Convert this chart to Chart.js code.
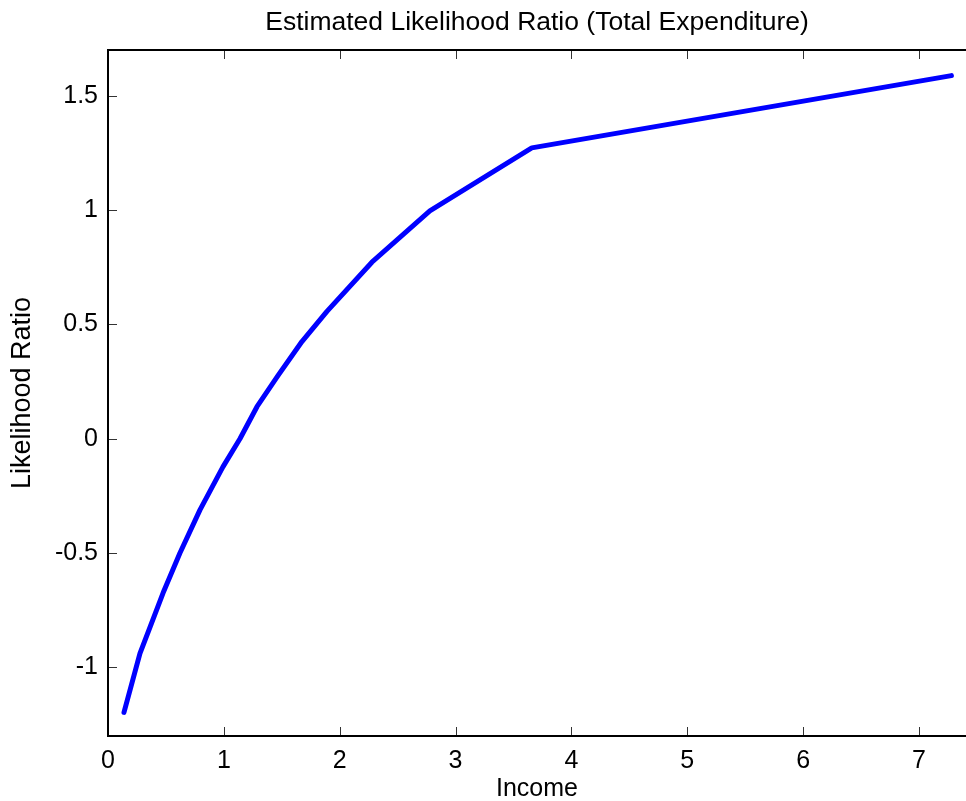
<!DOCTYPE html>
<html>
<head>
<meta charset="utf-8">
<script src="https://cdn.jsdelivr.net/npm/chart.js@4.4.1/dist/chart.umd.min.js"></script>
<style>
html, body { margin: 0; padding: 0; background: #fff; overflow: hidden; }
#wrap { width: 966px; height: 801px; }
</style>
</head>
<body>
<div id="wrap"><canvas id="chart" width="966" height="801"></canvas></div>
<script>
// values
const income = [0.138, 0.276, 0.362, 0.475, 0.621, 0.794, 0.992, 1.139, 1.286, 1.467, 1.674, 1.890, 2.278, 2.778, 3.658, 7.28];
const ratio = [-1.197, -0.939, -0.825, -0.675, -0.5, -0.311, -0.123, 0, 0.140, 0.276, 0.425, 0.557, 0.772, 0.996, 1.272, 1.588];
const xTicks = [0, 1, 2, 3, 4, 5, 6, 7];
const yTicks = [-1, -0.5, 0, 0.5, 1, 1.5];
const titleText = 'Estimated Likelihood Ratio (Total Expenditure)';

const FONT = "'Liberation Sans', Arial, Helvetica, sans-serif";

// frame on left/top/bottom + inward tick marks (Matlab style), title centred over the axes
const frameTicks = {
    id: 'frameTicks',
    afterDraw(chart) {
        const { ctx, chartArea: { left, top, right, bottom }, scales: { x, y } } = chart;
        ctx.save();
        ctx.strokeStyle = '#333';
        ctx.lineWidth = 1;
        ctx.beginPath();
        xTicks.forEach(v => {
            const px = Math.round(x.getPixelForValue(v)) + 0.5;
            ctx.moveTo(px, bottom); ctx.lineTo(px, bottom - 9);
            ctx.moveTo(px, top); ctx.lineTo(px, top + 9);
        });
        yTicks.forEach(v => {
            const py = Math.round(y.getPixelForValue(v)) + 0.5;
            ctx.moveTo(left, py); ctx.lineTo(left + 9, py);
        });
        ctx.stroke();

        ctx.strokeStyle = '#000';
        ctx.lineWidth = 2;
        ctx.beginPath();
        ctx.moveTo(right + 5, top); ctx.lineTo(left, top);
        ctx.lineTo(left, bottom); ctx.lineTo(right + 5, bottom);
        ctx.stroke();

        ctx.fillStyle = '#000';
        ctx.font = '26.5px ' + FONT;
        ctx.textAlign = 'center';
        ctx.textBaseline = 'middle';
        ctx.fillText(titleText, (left + right) / 2, 23);
        ctx.restore();
    }
};

const chart = new Chart(document.getElementById('chart').getContext('2d'), {
    type: 'line',
    data: {
        datasets: [{
            data: income.map((v, i) => ({ x: v, y: ratio[i] })),
            borderColor: '#0000ff',
            borderWidth: 5,
            pointRadius: 0,
            tension: 0,
            borderCapStyle: 'round',
            borderJoinStyle: 'round',
            fill: false
        }]
    },
    options: {
        responsive: false,
        animation: false,
        layout: { padding: { top: 50, left: 0, right: 0, bottom: 0 } },
        plugins: {
            legend: { display: false },
            tooltip: { enabled: false },
            title: { display: false }
        },
        scales: {
            x: {
                type: 'linear',
                min: 0,
                max: 7.406,
                afterBuildTicks: s => { s.ticks = xTicks.map(v => ({ value: v })); },
                afterFit: s => { s.height = 65; },
                grid: { display: false, drawTicks: false },
                border: { display: false },
                ticks: { color: '#000', padding: 10, maxRotation: 0, font: { family: FONT, size: 25 } },
                title: {
                    display: true, text: 'Income', color: '#000',
                    font: { family: FONT, size: 25 },
                    padding: { top: 0, bottom: -3 }
                }
            },
            y: {
                type: 'linear',
                min: -1.3,
                max: 1.7,
                afterBuildTicks: s => { s.ticks = yTicks.map(v => ({ value: v })); },
                afterFit: s => { s.width = 108; },
                grid: { display: false, drawTicks: false },
                border: { display: false },
                ticks: {
                    color: '#000', padding: 10, font: { family: FONT, size: 25 },
                    callback: v => String(v)
                },
                title: {
                    display: true, text: 'Likelihood Ratio', color: '#000',
                    font: { family: FONT, size: 27 },
                    padding: { top: 6, bottom: 0 }
                }
            }
        }
    },
    plugins: [frameTicks]
});
</script>
</body>
</html>
